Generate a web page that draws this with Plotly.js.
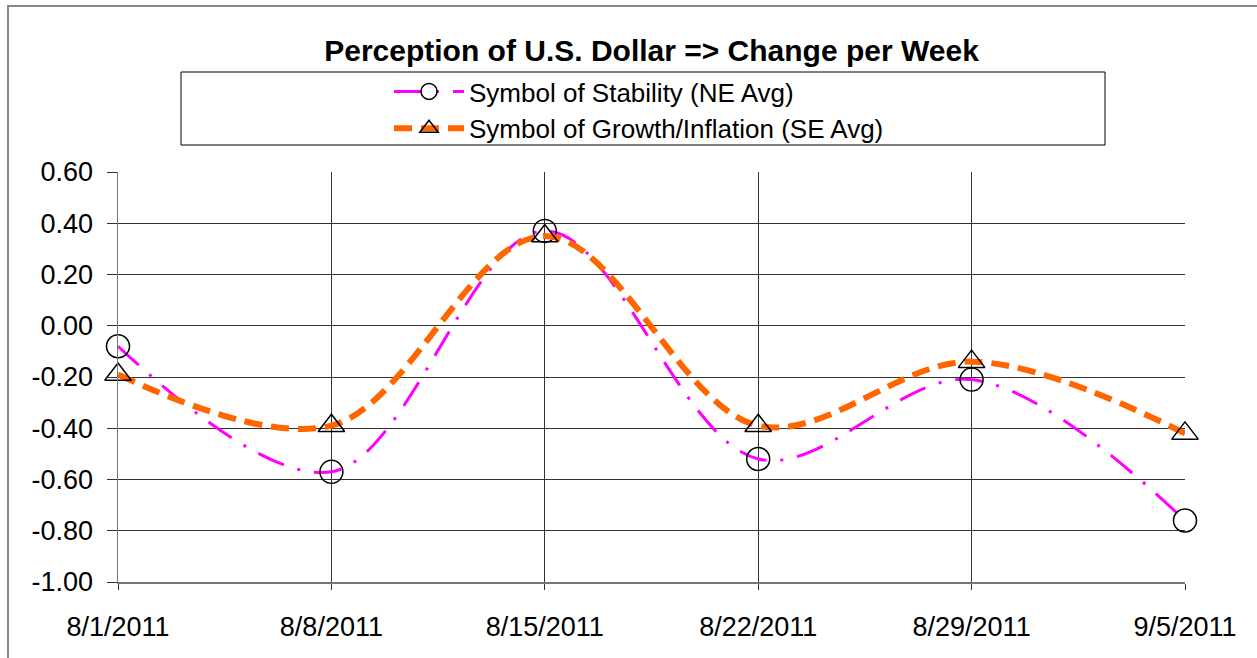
<!DOCTYPE html>
<html>
<head>
<meta charset="utf-8">
<script src="https://cdn.plot.ly/plotly-3.0.1.min.js"></script>
<style>html,body{margin:0;padding:0;background:#fff;}#chart{width:1257px;height:658px;}</style>
</head>
<body>
<div id="chart"></div>
<script>
const dates = ['2011-08-01','2011-08-08','2011-08-15','2011-08-22','2011-08-29','2011-09-05'];
const tickLabels = ['8/1/2011','8/8/2011','8/15/2011','8/22/2011','8/29/2011','9/5/2011'];
const yTickVals = [-1, -0.8, -0.6, -0.4, -0.2, 0, 0.2, 0.4, 0.6];
const yTickLabels = ['-1.00','-0.80','-0.60','-0.40','-0.20','0.00','0.20','0.40','0.60'];
const stability = [-0.08, -0.57, 0.37, -0.52, -0.21, -0.76];
const growth = [-0.19, -0.39, 0.35, -0.39, -0.14, -0.42];
const seriesNames = ['Symbol of Stability (NE Avg)', 'Symbol of Growth/Inflation (SE Avg)'];

const font = 'Liberation Sans, Arial, sans-serif';
const traces = [
  {x: dates, y: stability, name: seriesNames[0], type: 'scatter', mode: 'lines+markers', cliponaxis: false,
   line: {color: '#FF00FF', width: 3, dash: '28px,14px,3px,14px', shape: 'spline', smoothing: 1},
   marker: {symbol: 'circle-open', size: 23, color: '#000', line: {width: 1.5, color: '#000'}}},
  {x: dates, y: growth, name: seriesNames[1], type: 'scatter', mode: 'lines+markers', cliponaxis: false,
   line: {color: '#FF6600', width: 6, dash: '18px,9px', shape: 'spline', smoothing: 1},
   marker: {symbol: 'triangle-up-open', size: 23, color: '#000', line: {width: 1.5, color: '#000'}}}
];

const layout = {
  width: 1257, height: 658,
  margin: {l: 118, r: 72, t: 172, b: 76},
  paper_bgcolor: '#fff', plot_bgcolor: '#fff',
  font: {family: font, color: '#000'},
  title: {text: '<b>Perception of U.S. Dollar => Change per Week</b>', font: {family: font, size: 30, color: '#000'},
          x: 0.5, xref: 'paper', xanchor: 'center', y: 1 - 50/658, yref: 'container', yanchor: 'middle'},
  xaxis: {type: 'date', range: [dates[0], dates[dates.length-1]], tickvals: dates, ticktext: tickLabels,
          showgrid: true, gridcolor: '#333', gridwidth: 1, showline: true, linecolor: '#777', linewidth: 1.5,
          ticks: 'outside', ticklen: 6, tickcolor: '#333', ticklabelstandoff: 14,
          tickfont: {family: font, size: 27, color: '#000'}, zeroline: false, fixedrange: true},
  yaxis: {range: [-1.0, 0.6], tickvals: yTickVals, ticktext: yTickLabels,
          showgrid: true, gridcolor: '#333', gridwidth: 1, showline: true, linecolor: '#777', linewidth: 1.5,
          ticks: 'outside', ticklen: 10, tickcolor: '#333', ticklabelstandoff: 8,
          tickfont: {family: font, size: 27, color: '#000'}, zeroline: false, fixedrange: true},
  showlegend: true,
  legend: {x: (389-118)/1067, xanchor: 'left', y: (582-68)/410, yanchor: 'top', bgcolor: 'rgba(0,0,0,0)',
           font: {family: font, size: 26, color: '#000'}, itemwidth: 70, tracegroupgap: 0},
  shapes: [
    {type: 'rect', xref: 'paper', yref: 'paper', x0: (181-118)/1067, x1: (1105-118)/1067,
     y0: (582-145)/410, y1: (582-72)/410, line: {color: '#000', width: 1}, fillcolor: 'rgba(0,0,0,0)'},
    {type: 'rect', xref: 'paper', yref: 'paper', x0: (8-118)/1067, x1: (1262-118)/1067,
     y0: (582-662)/410, y1: (582-6)/410, line: {color: '#888', width: 2}, fillcolor: 'rgba(0,0,0,0)'}
  ]
};
Plotly.newPlot('chart', traces, layout, {displayModeBar: false, staticPlot: true});
</script>
</body>
</html>
